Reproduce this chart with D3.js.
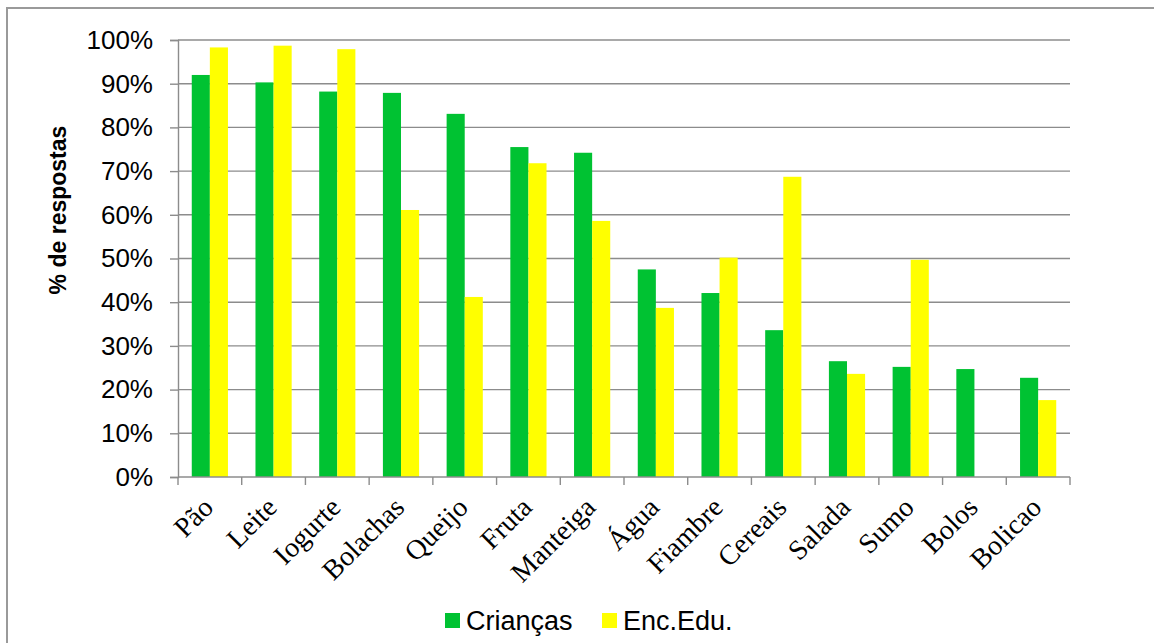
<!DOCTYPE html>
<html>
<head>
<meta charset="utf-8">
<script src="https://cdn.jsdelivr.net/npm/d3@7"></script>
<style>
  html, body { margin: 0; padding: 0; background: #fff; }
  svg { display: block; }
</style>
</head>
<body>
<svg id="chart" width="1154" height="643"></svg>
<script>
// Food items and share of answers (%) for each group
const categories = ["Pão", "Leite", "Iogurte", "Bolachas", "Queijo", "Fruta", "Manteiga",
                    "Água", "Fiambre", "Cereais", "Salada", "Sumo", "Bolos", "Bolicao"];
const seriesNames = ["Crianças", "Enc.Edu."];
const criancas = [92.0, 90.3, 88.2, 87.9, 83.1, 75.5, 74.2, 47.5, 42.1, 33.6, 26.5, 25.2, 24.7, 22.7];
const encEdu   = [98.3, 98.7, 97.9, 61.1, 41.2, 71.8, 58.6, 38.7, 50.2, 68.7, 23.6, 49.7, 0, 17.6];
const yTicks = [0, 10, 20, 30, 40, 50, 60, 70, 80, 90, 100];
const colors = ["#00c232", "#ffff00"];

const svg = d3.select("#chart");

// Outer chart frame (top and left edges visible)
svg.append("rect")
  .attr("x", 7).attr("y", 8)
  .attr("width", 1160).attr("height", 650)
  .attr("fill", "none")
  .attr("stroke", "#9a9a9a")
  .attr("stroke-width", 2);

const plot = { left: 178, right: 1070, top: 40, bottom: 477 };

const x0 = d3.scaleBand()
  .domain(categories)
  .range([plot.left, plot.right])
  .paddingInner(0).paddingOuter(0);

const step = x0.step();
const x1 = d3.scaleBand()
  .domain(seriesNames)
  .range([step * 0.216, step * 0.784])
  .padding(0);

const y = d3.scaleLinear().domain([0, 100]).range([plot.bottom, plot.top]);

// Horizontal gridlines
svg.append("g")
  .selectAll("line")
  .data(yTicks.filter(d => d > 0))
  .join("line")
  .attr("x1", plot.left).attr("x2", plot.right)
  .attr("y1", d => y(d)).attr("y2", d => y(d))
  .attr("stroke", "#8c8c8c")
  .attr("stroke-width", 1.4);

// Bars
const rows = categories.map((c, i) => ({ cat: c, values: [criancas[i], encEdu[i]] }));
svg.append("g")
  .selectAll("g")
  .data(rows)
  .join("g")
  .attr("transform", d => `translate(${x0(d.cat)},0)`)
  .selectAll("rect")
  .data(d => d.values.map((v, k) => ({ name: seriesNames[k], v, k })))
  .join("rect")
  .attr("x", d => x1(d.name))
  .attr("width", x1.bandwidth())
  .attr("y", d => y(d.v))
  .attr("height", d => y(0) - y(d.v))
  .attr("fill", d => colors[d.k]);

// Y axis
const yAxis = svg.append("g")
  .attr("transform", `translate(${plot.left},0)`)
  .call(d3.axisLeft(y).tickValues(yTicks).tickFormat(d => d + "%").tickSize(8).tickPadding(17));
yAxis.select(".domain").attr("stroke", "#8c8c8c").attr("stroke-width", 1.4);
yAxis.selectAll(".tick line").attr("stroke", "#8c8c8c").attr("stroke-width", 1.4);
yAxis.selectAll(".tick text")
  .attr("font-family", "'Liberation Sans', Arial, sans-serif")
  .attr("font-size", 26)
  .attr("fill", "#000");

// X axis baseline with boundary ticks between categories
const xg = svg.append("g");
xg.append("line")
  .attr("x1", plot.left).attr("x2", plot.right)
  .attr("y1", plot.bottom).attr("y2", plot.bottom)
  .attr("stroke", "#8c8c8c").attr("stroke-width", 1.4);
const bounds = categories.map(c => x0(c)).concat([plot.right]);
xg.selectAll("line.b")
  .data(bounds)
  .join("line")
  .attr("class", "b")
  .attr("x1", d => d).attr("x2", d => d)
  .attr("y1", plot.bottom).attr("y2", plot.bottom + 8)
  .attr("stroke", "#8c8c8c").attr("stroke-width", 1.4);

// Rotated category labels
xg.selectAll("text")
  .data(categories)
  .join("text")
  .attr("transform", d => `translate(${x0(d) + step / 2 + 5},${plot.bottom + 32}) rotate(-45)`)
  .attr("text-anchor", "end")
  .attr("font-family", "'Liberation Serif', 'Times New Roman', serif")
  .attr("font-size", 28)
  .attr("fill", "#000")
  .text(d => d);

// Y axis title
svg.append("text")
  .attr("transform", "translate(66,210) rotate(-90)")
  .attr("text-anchor", "middle")
  .attr("font-family", "'Liberation Sans', Arial, sans-serif")
  .attr("font-weight", "bold")
  .attr("font-size", 23)
  .attr("fill", "#000")
  .text("% de respostas");

// Legend
const legendX = [445, 602];
const legend = svg.append("g");
const items = legend.selectAll("g")
  .data(seriesNames)
  .join("g")
  .attr("transform", (d, i) => `translate(${legendX[i]},613)`);
items.append("rect")
  .attr("width", 15).attr("height", 15)
  .attr("fill", (d, i) => colors[i]);
items.append("text")
  .attr("x", 21).attr("y", 17)
  .attr("font-family", "'Liberation Sans', Arial, sans-serif")
  .attr("font-size", 27)
  .attr("fill", "#000")
  .text(d => d);
</script>
</body>
</html>
